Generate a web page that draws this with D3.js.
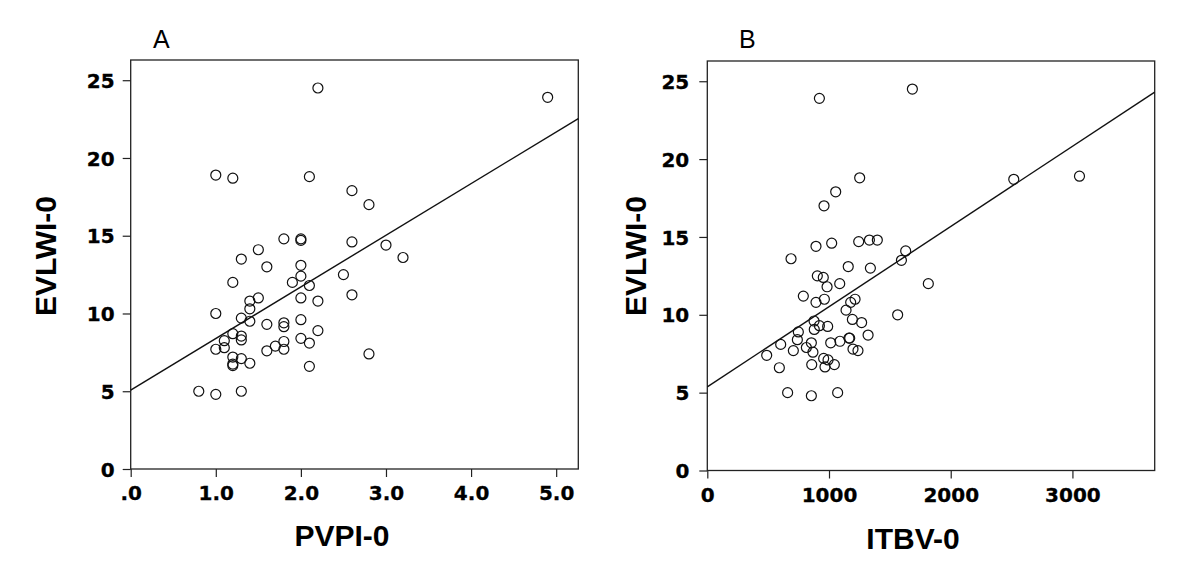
<!DOCTYPE html>
<html>
<head>
<meta charset="utf-8">
<script src="https://cdn.jsdelivr.net/npm/d3@7"></script>
<style>
  body { margin: 0; background: #fff; }
  .tick text { font-family: "DejaVu Sans", sans-serif; font-weight: bold; font-size: 20px; fill: #000; stroke: #000; stroke-width: 0.3px; }
  .axis-title { font-family: "Liberation Sans", Arial, sans-serif; font-weight: bold; font-size: 30px; fill: #000; }
  .panel-letter { font-family: "Liberation Sans", Arial, sans-serif; font-size: 25px; fill: #000; }
</style>
</head>
<body>
<div id="chart"></div>
<script>
// panel A: PVPI-0 vs EVLWI-0
var pvpiA = [2.2, 4.9, 1.0, 1.2, 2.1, 2.6, 2.8, 1.8, 2.0, 2.0, 2.6, 3.0, 3.2, 1.5, 1.3, 1.6, 2.0, 2.0, 2.5, 1.2,
  1.9, 2.1, 2.6, 1.4, 1.5, 2.0, 2.2, 1.4, 1.3, 1.4, 1.0, 1.6, 1.8, 1.8, 2.0, 2.2, 1.2, 1.3, 1.3, 1.1,
  1.0, 1.1, 1.7, 1.8, 1.8, 1.6, 2.0, 2.1, 2.8, 1.2, 1.3, 1.2, 1.2, 1.4, 2.1, 0.8, 1.0, 1.3]
var evlwiA = [24.5, 23.9, 18.9, 18.7, 18.8, 17.9, 17.0, 14.8, 14.8, 14.7, 14.6, 14.4, 13.6, 14.1, 13.5, 13.0, 13.1, 12.4, 12.5, 12.0,
  12.0, 11.8, 11.2, 10.8, 11.0, 11.0, 10.8, 10.3, 9.7, 9.5, 10.0, 9.3, 9.4, 9.15, 9.6, 8.9, 8.7, 8.55, 8.3, 8.25,
  7.7, 7.8, 7.9, 8.2, 7.7, 7.6, 8.4, 8.1, 7.4, 7.2, 7.1, 6.75, 6.65, 6.8, 6.6, 5.0, 4.8, 5.0]

// panel B: ITBV-0 vs EVLWI-0
var itbvB = [921, 1685, 1252, 2518, 3058, 1055, 959, 893, 1022, 1244, 1332, 1397, 688, 1595, 1630, 1158, 1340,
  904, 953, 984, 1088, 1816, 789, 893, 962, 1178, 1214, 1140, 1564, 877, 921, 989, 879, 1192, 1268, 1321,
  748, 740, 603, 855, 1014, 1090, 1164, 1170, 814, 707, 868, 1197, 1238, 488, 956, 992, 858, 967, 1044,
  592, 660, 855, 1071]
var evlwiB = [23.9, 24.5, 18.8, 18.7, 18.9, 17.9, 17.0, 14.4, 14.6, 14.7, 14.8, 14.8, 13.6, 13.5, 14.1, 13.1, 13.0,
  12.5, 12.4, 11.8, 12.0, 12.0, 11.2, 10.8, 11.0, 10.8, 11.0, 10.3, 10.0, 9.6, 9.3, 9.25, 9.06, 9.7, 9.5, 8.7,
  8.9, 8.4, 8.1, 8.2, 8.2, 8.3, 8.5, 8.5, 7.9, 7.7, 7.6, 7.8, 7.7, 7.4, 7.2, 7.1, 6.8, 6.65, 6.8,
  6.6, 5.0, 4.8, 5.0]

// fitted lines (intercept, slope)
var fitA = [5.07, 3.32]
var fitB = [5.37, 0.00515]

var yTicks = [0, 5, 10, 15, 20, 25]
var xTicksA = [0, 1, 2, 3, 4, 5]
var xTickLabelsA = [".0", "1.0", "2.0", "3.0", "4.0", "5.0"]
var xTicksB = [0, 1000, 2000, 3000]
var xTickLabelsB = ["0", "1000", "2000", "3000"]

var svg = d3.select("#chart")
  .append("svg")
  .attr("width", 1200)
  .attr("height", 580)

function drawPanel(p) {
  var x = d3.scaleLinear().domain(p.xDomain).range([p.left, p.right])
  var y = d3.scaleLinear().domain([0, 26.3]).range([p.bottom, p.top])
  var g = svg.append("g")

  var xAxis = g.append("g")
    .attr("transform", "translate(0," + p.bottom + ")")
    .call(d3.axisBottom(x).tickValues(p.xTicks)
      .tickFormat(function(d, i) { return p.xLabels[i]; })
      .tickSize(8).tickPadding(6))
  xAxis.select(".domain").remove()
  xAxis.selectAll(".tick text").attr("dy", "0.85em")

  var yAxis = g.append("g")
    .attr("transform", "translate(" + p.left + ",0)")
    .call(d3.axisLeft(y).tickValues(yTicks).tickSize(8).tickPadding(p.yPad))
  yAxis.select(".domain").remove()
  yAxis.selectAll(".tick text").attr("dy", "0.36em")

  g.selectAll(".tick line").attr("stroke", "#222").attr("stroke-width", 1.2)

  // frame
  g.append("rect")
    .attr("x", p.left).attr("y", p.top)
    .attr("width", p.right - p.left).attr("height", p.bottom - p.top)
    .attr("fill", "none").attr("stroke", "#222").attr("stroke-width", 1.3)

  // regression line
  var x0 = p.xDomain[0], x1 = p.xDomain[1]
  g.append("line")
    .attr("x1", x(x0)).attr("y1", y(p.fit[0] + p.fit[1] * x0))
    .attr("x2", x(x1)).attr("y2", y(p.fit[0] + p.fit[1] * x1))
    .attr("stroke", "#111").attr("stroke-width", 1.4)

  g.selectAll("circle.pt")
    .data(p.xs)
    .enter()
    .append("circle")
    .attr("class", "pt")
    .attr("cx", function(d) { return x(d); })
    .attr("cy", function(d, i) { return y(p.ys[i]); })
    .attr("r", 5)
    .attr("fill", "none")
    .attr("stroke", "#111")
    .attr("stroke-width", 1.2)

  g.append("text")
    .attr("class", "panel-letter")
    .attr("x", p.letterX).attr("y", 48)
    .text(p.letter)

  g.append("text")
    .attr("class", "axis-title")
    .attr("text-anchor", "middle")
    .attr("x", p.xTitleX).attr("y", p.xTitleY)
    .text(p.xTitle)

  g.append("text")
    .attr("class", "axis-title")
    .attr("text-anchor", "middle")
    .attr("transform", "translate(" + p.yTitleX + ",256) rotate(-90)")
    .text("EVLWI-0")
}

drawPanel({
  left: 130.7, right: 578.3, top: 60, bottom: 469,
  xDomain: [0, 5.26], xTicks: xTicksA, xLabels: xTickLabelsA,
  xs: pvpiA, ys: evlwiA, fit: fitA, yPad: 8,
  letter: "A", letterX: 153, xTitle: "PVPI-0", xTitleX: 342, xTitleY: 546, yTitleX: 56
})

drawPanel({
  left: 707.3, right: 1154.7, top: 61, bottom: 470.5,
  xDomain: [0, 3676], xTicks: xTicksB, xLabels: xTickLabelsB,
  xs: itbvB, ys: evlwiB, fit: fitB, yPad: 10,
  letter: "B", letterX: 739, xTitle: "ITBV-0", xTitleX: 913, xTitleY: 549, yTitleX: 646
})
</script>
</body>
</html>
